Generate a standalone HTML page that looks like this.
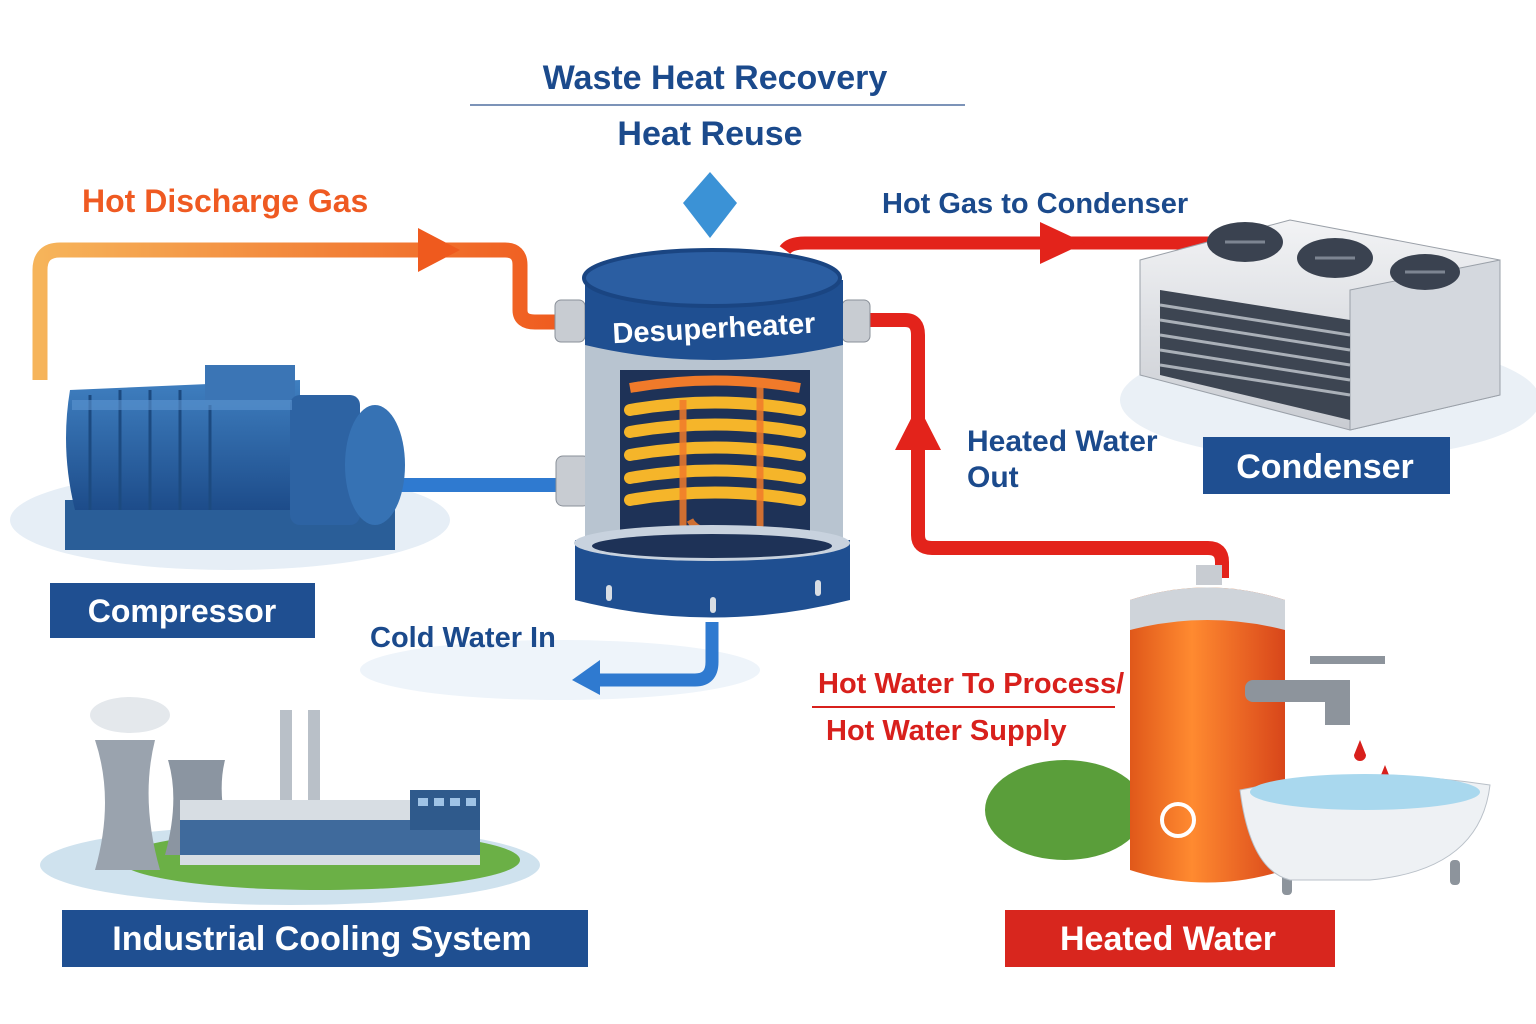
<!DOCTYPE html>
<html><head><meta charset="utf-8"><style>
html,body{margin:0;padding:0;background:#fff}
svg{display:block}
text{font-family:"Liberation Sans",sans-serif;font-weight:bold}
</style></head><body>
<svg width="1536" height="1024" viewBox="0 0 1536 1024" xmlns="http://www.w3.org/2000/svg">
<defs>
<linearGradient id="og" x1="0" y1="0" x2="1" y2="0"><stop offset="0" stop-color="#f6b45a"/><stop offset="1" stop-color="#ef5a1e"/></linearGradient>
<linearGradient id="bl" x1="0" y1="0" x2="0" y2="1"><stop offset="0" stop-color="#3f7fc0"/><stop offset="1" stop-color="#1d4c8a"/></linearGradient>
<linearGradient id="tank" x1="0" y1="0" x2="1" y2="0"><stop offset="0" stop-color="#e0581a"/><stop offset=".4" stop-color="#ff8a30"/><stop offset="1" stop-color="#d8461a"/></linearGradient>
<linearGradient id="cond" x1="0" y1="0" x2="0" y2="1"><stop offset="0" stop-color="#f2f3f5"/><stop offset="1" stop-color="#c9ccd2"/></linearGradient>
</defs>

<ellipse cx="230" cy="520" rx="220" ry="50" fill="#e6eef6"/>
<ellipse cx="1330" cy="400" rx="210" ry="60" fill="#eaf0f6"/>
<ellipse cx="560" cy="670" rx="200" ry="30" fill="#eef4fa"/>

<text x="715" y="89" font-size="34" fill="#1b4a8c" text-anchor="middle">Waste Heat Recovery</text>
<line x1="470" y1="105" x2="965" y2="105" stroke="#7c93b8" stroke-width="2"/>
<text x="710" y="145" font-size="34" fill="#1b4a8c" text-anchor="middle">Heat Reuse</text>
<polygon points="710,172 737,203 710,238 683,203" fill="#3b92d6"/>

<text x="82" y="212" font-size="32" fill="#ef5a22">Hot Discharge Gas</text>
<path d="M40 380 V270 Q40 250 60 250 H505 Q520 250 520 265 V310 Q520 322 535 322 H565" fill="none" stroke="url(#og)" stroke-width="15" stroke-linejoin="round"/>
<polygon points="418,228 460,250 418,272" fill="#ef5a1e"/>

<text x="882" y="213" font-size="29" fill="#1b4a8c">Hot Gas to Condenser</text>
<path d="M785 250 Q790 243 805 243 H1210" fill="none" stroke="#e3231b" stroke-width="13"/>
<polygon points="1040,222 1085,243 1040,264" fill="#e3231b"/>

<path d="M845 320 H905 Q918 320 918 335 V535 Q918 548 932 548 H1208 Q1222 548 1222 562 V578" fill="none" stroke="#e3231b" stroke-width="14"/>
<polygon points="895,450 918,405 941,450" fill="#e3231b"/>
<text x="967" y="451" font-size="30" fill="#1b4a8c">Heated Water</text>
<text x="967" y="487" font-size="30" fill="#1b4a8c">Out</text>

<rect x="395" y="478" width="170" height="14" fill="#2f7ad0"/>

<rect x="555" y="300" width="30" height="42" rx="6" fill="#c8ccd2" stroke="#8a9099"/>
<rect x="842" y="300" width="28" height="42" rx="6" fill="#c8ccd2" stroke="#8a9099"/>
<rect x="556" y="456" width="34" height="50" rx="7" fill="#c8ccd2" stroke="#8a9099"/>
<rect x="585" y="340" width="258" height="215" fill="#b8c4d0"/>
<rect x="620" y="370" width="190" height="170" fill="#1e3257"/>
<g stroke="#f5b52a" stroke-width="12" fill="none" stroke-linecap="round">
<path d="M630 410 Q715 395 800 410"/><path d="M630 432 Q715 417 800 432"/><path d="M630 455 Q715 440 800 455"/><path d="M630 478 Q715 463 800 478"/><path d="M630 500 Q715 485 800 500"/>
</g>
<path d="M630 388 Q715 373 800 388" stroke="#f07a2a" stroke-width="10" fill="none"/>
<path d="M683 400 V545 M760 380 V545 M690 520 Q700 540 760 530" stroke="#f07a2a" stroke-width="7" fill="none" opacity=".85"/>
<path d="M575 540 H850 V600 Q712 635 575 600 Z" fill="#1f4f91"/>
<ellipse cx="712" cy="543" rx="138" ry="18" fill="#c8d2de"/>
<ellipse cx="712" cy="546" rx="120" ry="12" fill="#1e3257"/>
<g fill="#d8dde3"><rect x="606" y="585" width="6" height="16" rx="3"/><rect x="710" y="597" width="6" height="16" rx="3"/><rect x="815" y="580" width="6" height="16" rx="3"/></g>
<path d="M585 280 V345 Q712 375 843 345 V280 Z" fill="#1f4f91"/>
<ellipse cx="712" cy="278" rx="128" ry="28" fill="#2b5ea2" stroke="#1a4582" stroke-width="4"/>
<text x="714" y="338" font-size="29" fill="#fff" text-anchor="middle" transform="rotate(-3 714 330)">Desuperheater</text>
<path d="M712 622 V662 Q712 680 695 680 H585" fill="none" stroke="#2f7ad0" stroke-width="13"/>
<polygon points="600,660 572,680 600,695" fill="#2f7ad0"/>
<text x="370" y="647" font-size="29" fill="#1b4a8c">Cold Water In</text>

<rect x="65" y="500" width="330" height="50" fill="#2a5e98"/>
<path d="M70 390 Q60 450 75 510 H300 V380 Z" fill="url(#bl)"/>
<g stroke="#1c4a80" stroke-width="3"><line x1="90" y1="395" x2="90" y2="510"/><line x1="120" y1="390" x2="120" y2="510"/><line x1="150" y1="390" x2="150" y2="510"/><line x1="180" y1="390" x2="180" y2="510"/><line x1="210" y1="390" x2="210" y2="510"/></g>
<rect x="205" y="365" width="90" height="40" fill="#3b75b5"/>
<rect x="290" y="395" width="70" height="130" rx="10" fill="#2d63a3"/>
<ellipse cx="375" cy="465" rx="30" ry="60" fill="#3672b4"/>
<rect x="72" y="400" width="220" height="10" fill="#5b95d0" opacity=".6"/>
<rect x="50" y="583" width="265" height="55" fill="#1f4f91"/>
<text x="182" y="622" font-size="32" fill="#fff" text-anchor="middle">Compressor</text>

<polygon points="1140,260 1290,220 1500,260 1500,395 1350,430 1140,375" fill="url(#cond)" stroke="#9aa0a8"/>
<polygon points="1350,290 1500,260 1500,395 1350,430" fill="#d4d8de" stroke="#9aa0a8"/>
<polygon points="1160,290 1350,320 1350,420 1160,375" fill="#3d4552"/>
<g stroke="#aab0b8" stroke-width="3"><line x1="1160" y1="305" x2="1350" y2="335"/><line x1="1160" y1="320" x2="1350" y2="350"/><line x1="1160" y1="335" x2="1350" y2="365"/><line x1="1160" y1="350" x2="1350" y2="380"/><line x1="1160" y1="365" x2="1350" y2="395"/></g>
<g fill="#3a4250"><ellipse cx="1245" cy="242" rx="38" ry="20"/><ellipse cx="1335" cy="258" rx="38" ry="20"/><ellipse cx="1425" cy="272" rx="35" ry="18"/></g>
<g stroke="#7d8592" stroke-width="3"><line x1="1225" y1="242" x2="1265" y2="242"/><line x1="1315" y1="258" x2="1355" y2="258"/><line x1="1405" y1="272" x2="1445" y2="272"/></g>
<rect x="1203" y="437" width="247" height="57" fill="#1f4f91"/>
<text x="1325" y="478" font-size="34" fill="#fff" text-anchor="middle">Condenser</text>

<ellipse cx="290" cy="865" rx="250" ry="40" fill="#cfe2ee"/>
<ellipse cx="320" cy="860" rx="200" ry="30" fill="#6bb046"/>
<path d="M95 870 Q115 800 95 740 H155 Q140 800 160 870 Z" fill="#9aa3ae"/>
<path d="M165 855 Q180 800 168 760 H225 Q215 800 235 855 Z" fill="#8b95a1"/>
<ellipse cx="130" cy="715" rx="40" ry="18" fill="#e4e8ec"/>
<rect x="280" y="710" width="12" height="100" fill="#b9c0c8"/><rect x="308" y="710" width="12" height="100" fill="#b9c0c8"/>
<rect x="180" y="800" width="300" height="65" fill="#d7dde3"/>
<rect x="180" y="820" width="300" height="35" fill="#3f6a9c"/>
<rect x="410" y="790" width="70" height="40" fill="#2f5a8c"/>
<g fill="#9fc3e6"><rect x="418" y="798" width="10" height="8"/><rect x="434" y="798" width="10" height="8"/><rect x="450" y="798" width="10" height="8"/><rect x="466" y="798" width="10" height="8"/></g>
<rect x="62" y="910" width="526" height="57" fill="#1f4f91"/>
<text x="322" y="950" font-size="34" fill="#fff" text-anchor="middle">Industrial Cooling System</text>

<text x="818" y="693" font-size="29" fill="#d8201c">Hot Water To Process/</text>
<line x1="812" y1="707" x2="1115" y2="707" stroke="#d8201c" stroke-width="2"/>
<text x="826" y="740" font-size="29" fill="#d8201c">Hot Water Supply</text>
<ellipse cx="1065" cy="810" rx="80" ry="50" fill="#5a9e3a"/>
<path d="M1130 600 Q1207 575 1285 600 V870 Q1207 895 1130 870 Z" fill="url(#tank)"/>
<path d="M1130 600 Q1207 575 1285 600 V630 Q1207 610 1130 630 Z" fill="#cfd4da"/>
<rect x="1196" y="565" width="26" height="20" fill="#c8ccd2"/>
<circle cx="1178" cy="820" r="16" fill="none" stroke="#fff" stroke-width="4"/>
<rect x="1245" y="680" width="95" height="22" rx="8" fill="#8d949c"/>
<rect x="1325" y="680" width="25" height="45" fill="#8d949c"/>
<line x1="1310" y1="660" x2="1385" y2="660" stroke="#8d949c" stroke-width="8"/>
<path d="M1360 740 l-6 15 a6 6 0 0 0 12 0 Z M1385 765 l-6 15 a6 6 0 0 0 12 0 Z" fill="#d8201c"/>
<g fill="#8d949c"><rect x="1282" y="870" width="10" height="25" rx="4"/><rect x="1450" y="860" width="10" height="25" rx="4"/></g>
<path d="M1240 790 Q1360 765 1490 785 Q1480 870 1370 880 H1290 Q1250 870 1240 790 Z" fill="#eef1f4" stroke="#b9c0c8"/>
<ellipse cx="1365" cy="792" rx="115" ry="18" fill="#a9d8ee"/>
<rect x="1005" y="910" width="330" height="57" fill="#d8261e"/>
<text x="1168" y="950" font-size="34" fill="#fff" text-anchor="middle">Heated Water</text>
</svg>
</body></html>
